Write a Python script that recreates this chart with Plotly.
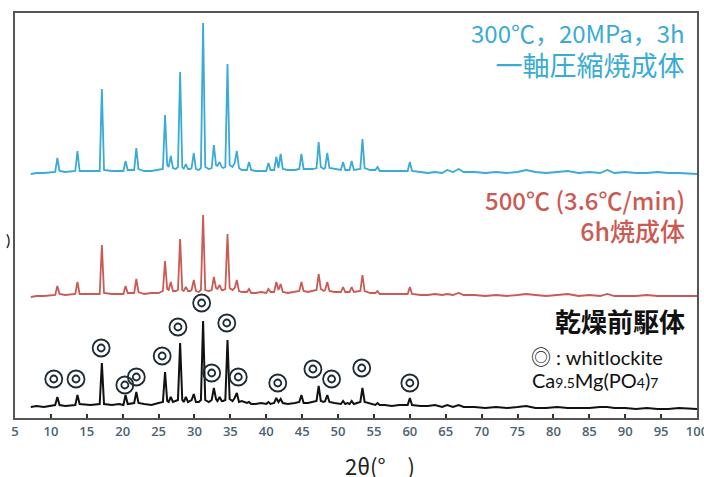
import plotly.graph_objects as go

# ---- data (2θ grid shared by the three patterns; intensities in a.u.) ----
two_theta = [
    7.2, 8.0, 9.0, 10.0, 10.6, 10.9, 11.2, 12.0, 13.4, 13.7, 14.0, 15.5, 16.8, 17.1, 17.4,
    18.5, 19.5, 20.1, 20.4, 20.7, 21.6, 21.9, 22.2, 23.0, 24.0, 25.0,
    25.6, 25.9, 26.2, 26.4, 26.7, 27.0, 27.4, 27.7, 28.0, 28.3, 28.5, 28.8, 29.1, 29.4, 29.6, 29.9, 30.2,
    30.6, 30.9, 31.2, 31.5, 32.0, 32.4, 32.7, 33.0, 33.2, 33.5, 33.8, 34.0, 34.3, 34.6, 34.9,
    35.3, 35.6, 35.9, 36.2, 36.6, 37.3, 37.6, 37.9, 38.5, 39.3, 40.0, 40.3, 40.6, 41.1, 41.4, 41.7, 42.0, 42.3,
    43.0, 44.0, 44.6, 44.9, 45.2, 45.8, 46.5, 47.0, 47.3, 47.6, 48.0, 48.2, 48.5, 48.8,
    49.5, 50.4, 50.7, 51.0, 51.3, 51.6, 51.9, 52.2, 53.1, 53.4, 53.7, 54.5, 55.2, 55.5, 55.8,
    56.5, 57.5, 58.5, 59.7, 60.0, 60.3, 61.5, 62.5, 63.5, 64.5, 65.2, 66.0, 66.8, 67.5,
    69.0, 70.5, 72.0, 73.5, 75.0, 76.2, 77.5, 79.0, 80.5, 82.0, 83.5, 85.0, 86.5, 87.5, 88.5,
    90.0, 91.5, 93.0, 94.5, 96.0, 97.5, 99.0, 100.0,
]

# 300°C, 20 MPa, 3 h uniaxially pressed & sintered
intensity_pressed = [
    -1, 0, 0, 1, 1, 15, 2, 1, 2, 22, 2, 2, 2, 84, 3,
    2, 2, 2, 12, 3, 3, 25, 4, 2, 2, 3,
    4, 58, 8, 6, 17, 5, 4, 6, 101, 6, 4, 9, 4, 4, 5, 20, 4,
    3, 5, 150, 6, 4, 5, 28, 8, 7, 11, 6, 5, 6, 109, 8,
    6, 10, 22, 5, 3, 3, 11, 3, 2, 2, 2, 10, 3, 3, 16, 5, 19, 4,
    3, 3, 4, 19, 4, 4, 4, 5, 31, 6, 4, 5, 20, 5,
    4, 3, 11, 3, 3, 3, 12, 3, 4, 34, 5, 3, 3, 6, 2,
    2, 2, 2, 2, 11, 2, 1, 0, 1, 0, 3, 1, 4, 1,
    1, 0, 1, 0, 1, 3, 1, 0, 1, 2, 0, 1, 0, 3, 0,
    1, 0, 0, 1, 0, 0, -1, -1,
]

# 500°C (3.6°C/min) 6 h sintered
intensity_500c = [
    -1, 0, 0, 1, 1, 10, 2, 1, 2, 14, 2, 2, 2, 51, 3,
    2, 2, 2, 10, 3, 3, 17, 4, 2, 3, 3,
    5, 35, 7, 6, 14, 5, 5, 6, 57, 6, 5, 9, 5, 5, 6, 16, 5,
    4, 6, 81, 6, 5, 6, 19, 8, 7, 11, 6, 6, 7, 62, 8,
    6, 8, 16, 5, 4, 4, 7, 3, 3, 4, 3, 7, 4, 4, 14, 6, 12, 4,
    3, 4, 5, 14, 5, 4, 5, 6, 22, 7, 5, 6, 14, 5,
    4, 4, 9, 4, 4, 4, 9, 4, 5, 21, 5, 3, 3, 5, 2,
    2, 2, 2, 2, 9, 2, 1, 1, 2, 1, 2, 1, 3, 1,
    1, 0, 1, 0, 1, 2, 1, 0, 1, 2, 0, 1, 0, 2, 0,
    0, 0, 1, 0, 0, 0, 0, 0,
]

# dried precursor
intensity_precursor = [
    0, 1, 0, 1, 2, 10, 2, 1, 2, 12, 3, 2, 3, 44, 3,
    2, 3, 2, 12, 3, 4, 15, 4, 3, 2, 4,
    5, 35, 6, 5, 10, 5, 6, 7, 64, 7, 5, 10, 5, 6, 7, 13, 5,
    5, 7, 86, 7, 5, 7, 19, 8, 6, 10, 6, 6, 7, 67, 8,
    6, 9, 14, 5, 6, 4, 5, 3, 3, 4, 3, 5, 3, 4, 9, 5, 8, 4,
    3, 4, 5, 12, 4, 4, 5, 6, 21, 6, 5, 6, 12, 5,
    4, 3, 6, 3, 4, 3, 6, 3, 5, 19, 5, 3, 2, 4, 2,
    2, 1, 2, 2, 9, 2, 1, 1, 2, 0, 2, 0, 2, 0,
    0, -1, 0, -1, 0, 1, -1, -1, 0, -1, -1, -1, 0, 0, -1,
    -1, -2, -1, -2, -2, -1, -2, -2,
]

# whitlockite marker positions (2θ, a.u. on the stacked scale)
whitlockite_2theta = [10.4, 13.5, 17.0, 20.3, 21.9, 25.5, 27.7, 31.0, 32.4, 34.5, 36.1, 41.6, 46.5, 49.1, 53.3, 60.0]
whitlockite_level = [39, 39, 70, 33, 41, 62, 91, 115, 45, 95, 41, 35, 49, 39, 50, 35]

x_ticks = list(range(5, 101, 5))

offset_pressed = 245
offset_500c = 122
offset_precursor = 11

BLUE = "#3aaad6"
RED = "#cc5a54"
BLACK = "#111111"
MARK = "#1d2b36"

fig = go.Figure()
fig.add_trace(go.Scatter(x=two_theta, y=[v + offset_pressed for v in intensity_pressed],
                         mode="lines", line=dict(color=BLUE, width=1.8), showlegend=False))
fig.add_trace(go.Scatter(x=two_theta, y=[v + offset_500c for v in intensity_500c],
                         mode="lines", line=dict(color=RED, width=1.8), showlegend=False))
fig.add_trace(go.Scatter(x=two_theta, y=[v + offset_precursor for v in intensity_precursor],
                         mode="lines", line=dict(color=BLACK, width=2), showlegend=False))
for sz in (17, 7):
    fig.add_trace(go.Scatter(x=whitlockite_2theta, y=whitlockite_level, mode="markers",
                             marker=dict(symbol="circle-open", size=sz, color=MARK,
                                         line=dict(width=1.8, color=MARK)),
                             showlegend=False))

L, R, T, B = 15, 7, 13, 59
W, H = 704, 477
PW, PH = W - L - R, H - T - B


def px(xp):
    return (xp - L) / PW


def py(yp):
    return (H - B - yp) / PH


cjk = "Noto Sans CJK JP"
ann = []
ann.append(dict(text="<span style='font-size:24px'>300℃，20MPa，3h</span><br>"
                     "<span style='font-size:27px'>一軸圧縮焼成体</span>",
                x=px(687), y=py(50), xanchor="right", yanchor="middle", align="right",
                font=dict(family=cjk, size=25, color=BLUE)))
ann.append(dict(text="<span style='font-size:24px'>500℃ (3.6℃/min)</span><br>"
                     "<span style='font-size:25px'>6h焼成体</span>",
                x=px(687), y=py(215), xanchor="right", yanchor="middle", align="right",
                font=dict(family=cjk, size=24, color=RED, weight=500)))
ann.append(dict(text="乾燥前駆体", x=px(687), y=py(320), xanchor="right", yanchor="middle",
                font=dict(family=cjk, size=26, color="#111111", weight=600)))
ann.append(dict(text="◎ : whitlockite", x=px(529), y=py(357), xanchor="left", yanchor="middle",
                font=dict(family="Lato, Noto Sans CJK JP", size=20, color="#111111")))
ann.append(dict(text="Ca<span style='font-size:14px'>9.5</span>Mg(PO<span style='font-size:14px'>4</span>)<span style='font-size:14px'>7</span>",
                x=px(530), y=py(380), xanchor="left", yanchor="middle",
                font=dict(family="Lato", size=20, color="#111111")))
ann.append(dict(text="2θ(°　)", x=px(380), y=py(465), xanchor="center", yanchor="middle",
                font=dict(family=cjk, size=22, color="#222222")))
ann.append(dict(text=")", x=px(8), y=py(240), xanchor="center", yanchor="middle",
                font=dict(family="Lato", size=16, color="#111111")))
for a in ann:
    a.update(xref="paper", yref="paper", showarrow=False)

fig.update_layout(
    width=W, height=H,
    margin=dict(l=L, r=R, t=T, b=B, autoexpand=False),
    paper_bgcolor="white", plot_bgcolor="white",
    annotations=ann,
    xaxis=dict(range=[5, 100], tickvals=x_ticks, ticktext=[str(t) for t in x_ticks],
               ticks="inside", ticklen=4, tickwidth=1.5, tickcolor="#333333",
               showline=True, linecolor="#555555", linewidth=2, mirror=True,
               showgrid=False, zeroline=False, ticklabeloverflow="allow", automargin=False,
               tickfont=dict(family="Open Sans", size=13, color="#4a6272", weight=600)),
    yaxis=dict(range=[0, PH], showticklabels=False, ticks="", showgrid=False, zeroline=False,
               showline=True, linecolor="#555555", linewidth=2, mirror=True, automargin=False),
)

fig.write_html("out.html", config={"displayModeBar": False},
               post_script="document.body.style.margin='0';document.body.style.overflow='hidden';")
